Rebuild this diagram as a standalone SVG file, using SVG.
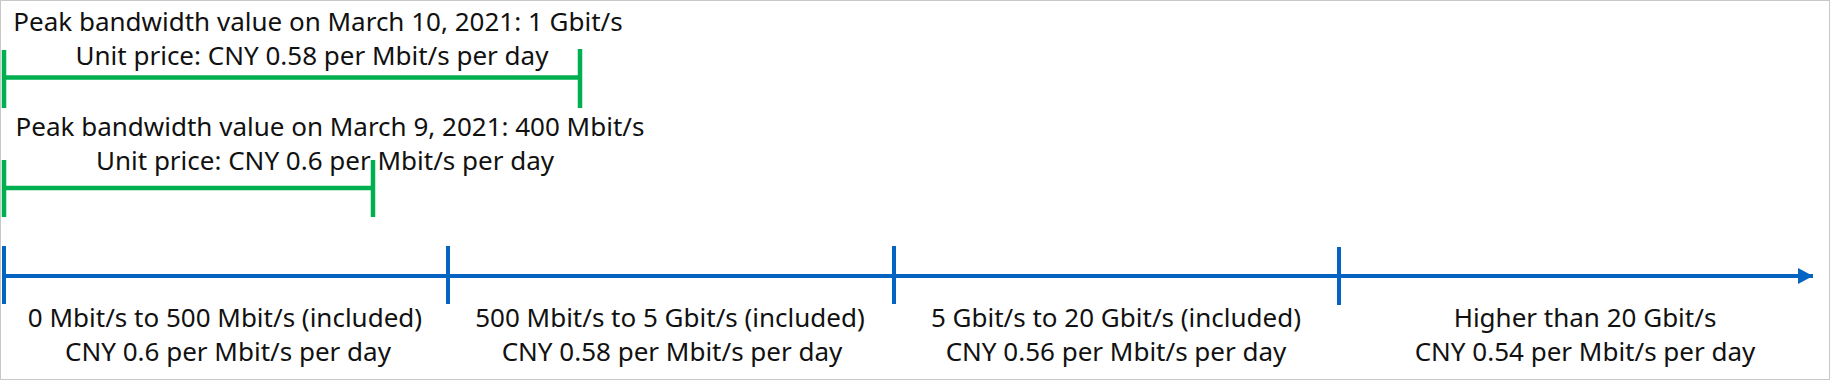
<svg xmlns="http://www.w3.org/2000/svg" width="1830" height="380" viewBox="0 0 1830 380">
<style>
text { font-family: "Noto Sans", "Open Sans", "DejaVu Sans", sans-serif; font-size: 26px; fill: #111; text-anchor: middle; }
.g { stroke: #00b050; stroke-width: 4.5; fill: none; }
.b { stroke: #0563c1; stroke-width: 4; fill: none; }
</style>
<defs>
<marker id="arr" markerUnits="userSpaceOnUse" markerWidth="16" markerHeight="18" refX="15" refY="8" orient="auto" viewBox="0 0 16 16">
<path d="M0,0 L15,8 L0,16 Z" fill="#0563c1"/>
</marker>
</defs>
<rect x="0.5" y="0.5" width="1829" height="379" fill="#fff" stroke="#c8c8c8" stroke-width="1"/>
<g id="connectors">
<line class="g" x1="4" y1="77.5" x2="580" y2="77.5"/>
<line class="g" x1="4" y1="188" x2="373" y2="188"/>
<line class="b" x1="4" y1="276" x2="1813" y2="276" marker-end="url(#arr)"/>
</g>
<g id="peak-mar10">
<line class="g" x1="4" y1="50" x2="4" y2="108"/>
<line class="g" x1="580" y1="49" x2="580" y2="108"/>
<text x="318" y="31">Peak bandwidth value on March 10, 2021: 1 Gbit/s</text>
<text x="312" y="65">Unit price: CNY 0.58 per Mbit/s per day</text>
</g>
<g id="peak-mar9">
<line class="g" x1="4" y1="160" x2="4" y2="217"/>
<line class="g" x1="373" y1="160" x2="373" y2="217"/>
<text x="330" y="136">Peak bandwidth value on March 9, 2021: 400 Mbit/s</text>
<text x="325" y="170">Unit price: CNY 0.6 per Mbit/s per day</text>
</g>
<g id="tier1">
<line class="b" x1="4" y1="246" x2="4" y2="304"/>
<text x="225" y="327">0 Mbit/s to 500 Mbit/s (included)</text>
<text x="228" y="361">CNY 0.6 per Mbit/s per day</text>
</g>
<g id="tier2">
<line class="b" x1="448" y1="246" x2="448" y2="304"/>
<text x="670" y="327">500 Mbit/s to 5 Gbit/s (included)</text>
<text x="672" y="361">CNY 0.58 per Mbit/s per day</text>
</g>
<g id="tier3">
<line class="b" x1="894" y1="246" x2="894" y2="304"/>
<text x="1116" y="327">5 Gbit/s to 20 Gbit/s (included)</text>
<text x="1116" y="361">CNY 0.56 per Mbit/s per day</text>
</g>
<g id="tier4">
<line class="b" x1="1339" y1="247" x2="1339" y2="305"/>
<text x="1585" y="327">Higher than 20 Gbit/s</text>
<text x="1585" y="361">CNY 0.54 per Mbit/s per day</text>
</g>
</svg>
